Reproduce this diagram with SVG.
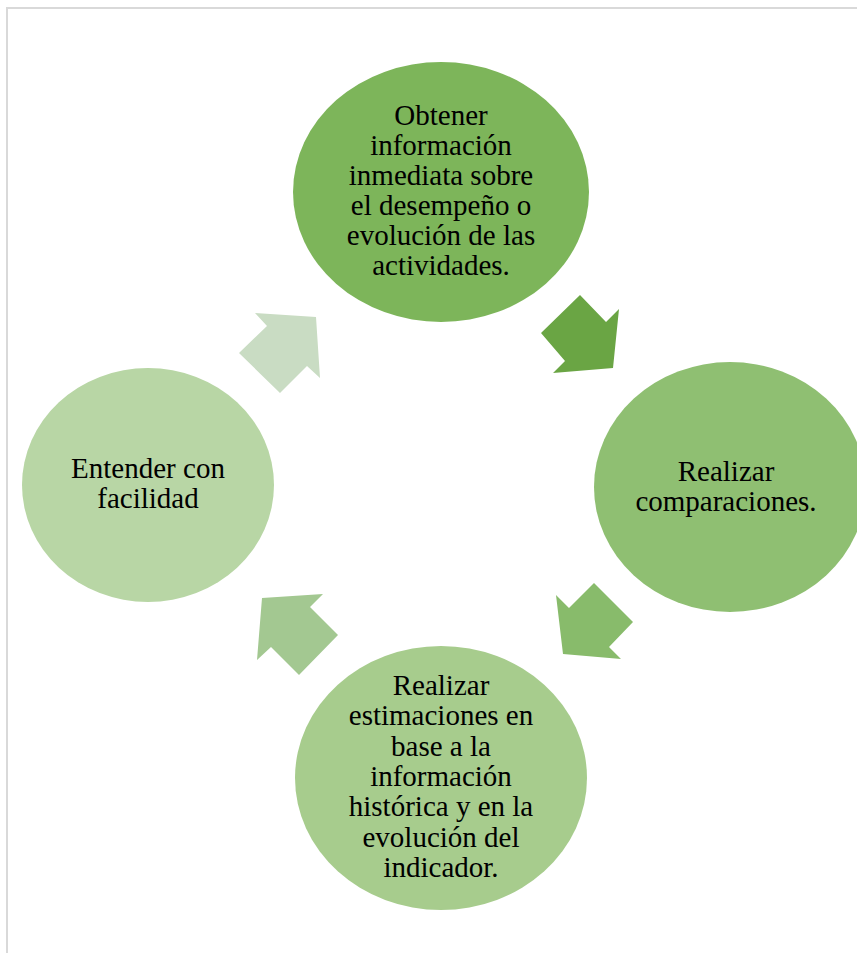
<svg xmlns="http://www.w3.org/2000/svg" width="857" height="953" viewBox="0 0 857 953">
<style>
.t{font-family:"Liberation Serif","Times New Roman",serif;font-size:29px;fill:#000;text-anchor:middle}
</style>
<rect x="0" y="0" width="857" height="953" fill="#fff"/>
<g id="frame" fill="none" stroke="#d9d9d9" stroke-width="2">
<path d="M7 953 V8 H857"/>
</g>
<g id="connectors">
<polygon points="580,295 606,322 619,309 613,368 553,373 565,361 541,333" fill="#6aa544"/>
<polygon points="594,583 633,622 609,647 621,659 563,654 556,595 569,608" fill="#88bb6b"/>
<polygon points="262,598 323,594 310,607 338,635 299,675 271,647 257,660" fill="#a3c891"/>
<polygon points="255,313 316,317 320,378 307,366 280,393 239,353 267,326" fill="#c9dcc3"/>
</g>
<g id="node1">
<ellipse cx="441" cy="192" rx="148" ry="130" fill="#7db55a"/>
<text class="t" x="441" y="125">Obtener</text>
<text class="t" x="441" y="155">información</text>
<text class="t" x="441" y="185">inmediata sobre</text>
<text class="t" x="441" y="215">el desempeño o</text>
<text class="t" x="441" y="245">evolución de las</text>
<text class="t" x="441" y="275">actividades.</text>
</g>
<g id="node2">
<ellipse cx="730" cy="487" rx="136" ry="125" fill="#8fbf72"/>
<text class="t" x="726" y="481">Realizar</text>
<text class="t" x="726" y="511">comparaciones.</text>
</g>
<g id="node3">
<ellipse cx="441" cy="778" rx="146" ry="132" fill="#a7cc8d"/>
<text class="t" x="441" y="695">Realizar</text>
<text class="t" x="441" y="725">estimaciones en</text>
<text class="t" x="441" y="756">base a la</text>
<text class="t" x="441" y="786">información</text>
<text class="t" x="441" y="816">histórica y en la</text>
<text class="t" x="441" y="847">evolución del</text>
<text class="t" x="441" y="877">indicador.</text>
</g>
<g id="node4">
<ellipse cx="148" cy="485" rx="126" ry="117" fill="#b8d6a5"/>
<text class="t" x="148" y="478">Entender con</text>
<text class="t" x="148" y="508">facilidad</text>
</g>
</svg>
